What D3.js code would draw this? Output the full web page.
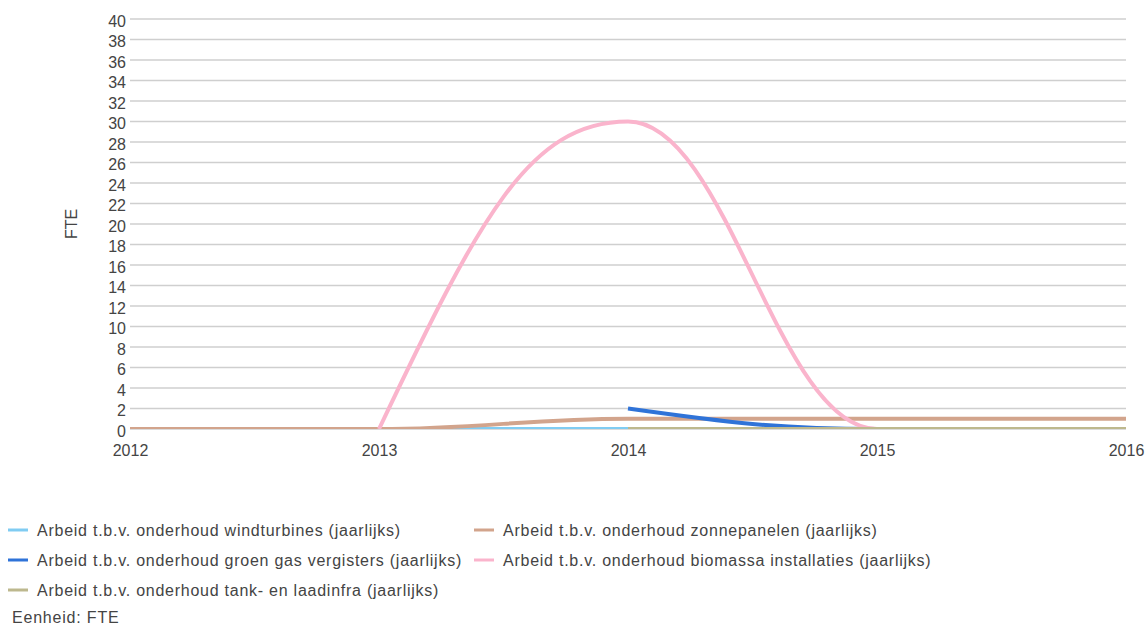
<!DOCTYPE html>
<html>
<head>
<meta charset="utf-8">
<script src="https://cdn.jsdelivr.net/npm/d3@7"></script>
<style>
  body { margin: 0; background: #fff; }
  text { font-family: "Liberation Sans", Arial, sans-serif; fill: #444; }
</style>
</head>
<body>
<svg width="1147" height="628"></svg>
<script>
// data
const years = [2012, 2013, 2014, 2015, 2016];
const windturbines = [0, 0, 0, 0, 0];
const zonnepanelen = [0, 0, 1, 1, 1];
const groenGas = [null, null, 2, 0, 0];
const biomassa = [null, 0, 30, 0, 0];
const tankLaad = [null, null, 0, 0, 0];
const yTicks = d3.range(0, 41, 2);

const series = [
  { name: "Arbeid t.b.v. onderhoud windturbines (jaarlijks)", values: windturbines, color: "#80ccf2" },
  { name: "Arbeid t.b.v. onderhoud zonnepanelen (jaarlijks)", values: zonnepanelen, color: "#d2a48c" },
  { name: "Arbeid t.b.v. onderhoud groen gas vergisters (jaarlijks)", values: groenGas, color: "#2f73d8" },
  { name: "Arbeid t.b.v. onderhoud biomassa installaties (jaarlijks)", values: biomassa, color: "#fab4cc" },
  { name: "Arbeid t.b.v. onderhoud tank- en laadinfra (jaarlijks)", values: tankLaad, color: "#bdb88e" }
];

const svg = d3.select("svg");
const plotLeft = 130, plotRight = 1126, plotTop = 19, plotBottom = 429;

const x = d3.scaleLinear().domain([2012, 2016]).range([plotLeft, plotRight]);
const y = d3.scaleLinear().domain([0, 40]).range([plotBottom, plotTop]);

// smooth curve: monotone tangents inside, steeper at the ends, slightly longer handles
function smoothCurve(context) {
  let xs, ys;
  const k = 0.4;
  return {
    areaStart() {}, areaEnd() {},
    lineStart() { xs = []; ys = []; },
    point(px, py) { xs.push(+px); ys.push(+py); },
    lineEnd() {
      const n = xs.length;
      if (!n) return;
      context.moveTo(xs[0], ys[0]);
      if (n === 1) return;
      const s = [];
      for (let i = 0; i < n - 1; i++) s.push((ys[i + 1] - ys[i]) / (xs[i + 1] - xs[i]));
      const m = new Array(n).fill(0);
      for (let i = 1; i < n - 1; i++) {
        const h0 = xs[i] - xs[i - 1], h1 = xs[i + 1] - xs[i];
        const p = (s[i - 1] * h1 + s[i] * h0) / (h0 + h1);
        m[i] = (Math.sign(s[i - 1]) + Math.sign(s[i])) *
          Math.min(Math.abs(s[i - 1]), Math.abs(s[i]), 0.5 * Math.abs(p)) || 0;
      }
      m[0] = 1.7 * s[0];
      m[n - 1] = 1.7 * s[n - 2];
      for (let i = 0; i < n - 1; i++) {
        const dx = (xs[i + 1] - xs[i]) * k;
        context.bezierCurveTo(
          xs[i] + dx, ys[i] + m[i] * dx,
          xs[i + 1] - dx, ys[i + 1] - m[i + 1] * dx,
          xs[i + 1], ys[i + 1]);
      }
    }
  };
}

// gridlines
svg.append("g")
  .selectAll("line")
  .data(yTicks)
  .enter()
  .append("line")
  .attr("x1", plotLeft)
  .attr("x2", plotRight)
  .attr("y1", d => y(d))
  .attr("y2", d => y(d))
  .attr("stroke", "#cfcfcf")
  .attr("stroke-width", 1.3);

// y axis labels
const yAxis = svg.append("g")
  .attr("transform", `translate(${plotLeft},0)`)
  .call(d3.axisLeft(y).tickValues(yTicks).tickSize(0).tickPadding(4));
yAxis.select(".domain").remove();
yAxis.selectAll("text").style("font-size", "16px").attr("font-family", null).attr("fill", "#444").attr("dy", "0.44em");

// x axis labels
const xAxis = svg.append("g")
  .attr("transform", `translate(0,${plotBottom})`)
  .call(d3.axisBottom(x).tickValues(years).tickFormat(d3.format("d")).tickSize(0).tickPadding(16));
xAxis.select(".domain").remove();
xAxis.selectAll("text").style("font-size", "16px").attr("font-family", null).attr("fill", "#444");

// y title
svg.append("text")
  .attr("transform", `translate(77,${(plotTop + plotBottom) / 2}) rotate(-90)`)
  .attr("text-anchor", "middle")
  .style("font-size", "16px")
  .text("FTE");

// clip lines to the chart area
svg.append("clipPath")
  .attr("id", "plot-clip")
  .append("rect")
  .attr("x", plotLeft - 2)
  .attr("y", plotTop - 5)
  .attr("width", plotRight - plotLeft + 4)
  .attr("height", plotBottom - plotTop + 5);

const line = d3.line()
  .defined(d => d != null)
  .x((d, i) => x(years[i]))
  .y(d => y(d))
  .curve(smoothCurve);

svg.append("g")
  .attr("clip-path", "url(#plot-clip)")
  .selectAll("path")
  .data(series)
  .enter()
  .append("path")
  .attr("d", d => line(d.values))
  .attr("fill", "none")
  .attr("stroke", d => d.color)
  .attr("stroke-width", 4);

// legend
const legend = svg.append("g");
const legendPos = [
  [8, 530], [474, 530],
  [8, 560], [474, 560],
  [8, 590]
];
series.forEach(function (s, i) {
  const p = legendPos[i];
  legend.append("line")
    .attr("x1", p[0]).attr("x2", p[0] + 20)
    .attr("y1", p[1]).attr("y2", p[1])
    .attr("stroke", s.color)
    .attr("stroke-width", 3);
  legend.append("text")
    .attr("x", p[0] + 29)
    .attr("y", p[1] + 6)
    .style("font-size", "16px")
    .style("letter-spacing", "0.75px")
    .text(s.name);
});

svg.append("text")
  .attr("x", 12)
  .attr("y", 623)
  .style("font-size", "16px")
  .style("letter-spacing", "0.8px")
  .text("Eenheid: FTE");
</script>
</body>
</html>
